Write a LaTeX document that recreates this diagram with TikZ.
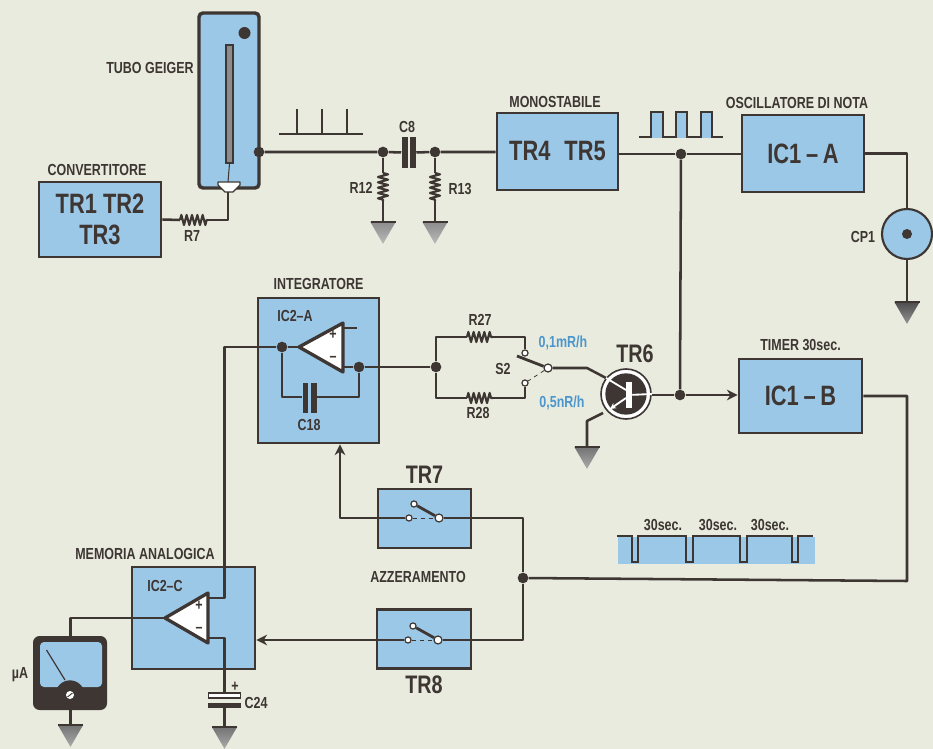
\documentclass[tikz,border=0pt]{standalone}
\usepackage{fontspec}
\setmainfont{Liberation Sans}[FakeStretch=0.78]
\usetikzlibrary{positioning,arrows.meta,shapes.geometric,calc,decorations.pathmorphing}
\definecolor{paper}{HTML}{E9EBDE}
\definecolor{ink}{HTML}{3D3633}
\definecolor{blk}{HTML}{9CC8E8}
\definecolor{note}{HTML}{4C96CC}
\begin{document}
\begin{tikzpicture}[x=0.75pt,y=-0.75pt,>={Stealth[length=8pt,width=8pt]},
  dims/.style 2 args={minimum width=#1*0.75pt,minimum height=#2*0.75pt},
  block/.style={draw=ink,fill=blk,line width=2.2pt,inner sep=0pt,text=ink,align=center,font=\fontsize{21}{25}\selectfont\bfseries},
  lbl/.style={inner sep=0pt,text=ink,font=\fontsize{12}{14}\selectfont\bfseries},
  biglbl/.style={lbl,font=\fontsize{19}{21}\selectfont\bfseries},
  rate/.style={lbl,text=note},
  wire/.style={draw=ink,line width=1.9pt,line join=round},
  res/.style={wire,line width=1.6pt,decoration={zigzag,segment length=4pt,amplitude=3.8pt},decorate},
  dot/.style={circle,fill=ink,inner sep=0pt,minimum size=8pt},
  plate/.style={fill=ink,inner sep=0pt},
  contact/.style={circle,draw=ink,fill=white,line width=0.9pt,inner sep=0pt,minimum size=4.6pt},
  wiper/.style={contact,minimum size=6pt},
  gnd/.style={regular polygon,regular polygon sides=3,shape border rotate=180,inner sep=0pt,minimum size=22pt},
  opamp/.style={draw=ink,fill=white,line width=2.5pt,line join=round},
  pulse/.style={draw=ink,line width=1.2pt}]
\fill[paper] (0,0) rectangle (933,749);
\useasboundingbox (0,0) rectangle (933,749);
% blocks
\node[block,dims={122}{75}] (conv) at (100,219.5) {TR1 TR2\\[-2pt]TR3};
\node[block,dims={121}{77}] (mono) at (557.5,151.5) {TR4\enspace TR5};
\node[block,dims={122}{77}] (osc) at (803,153.5) {IC1\,--\,A};
\node[block,dims={123}{74}] (timer) at (800.5,396) {IC1\,--\,B};
\node[block,dims={121}{145}] (inte) at (318.5,370.5) {};
\node[block,dims={123}{102}] (mem) at (193.5,618) {};
\node[block,dims={93}{59}] (tr7) at (424.5,518.5) {};
\node[block,dims={94}{59}] (tr8) at (424,639) {};
% labels
\node[lbl] (lConv) at (97,170) {CONVERTITORE};
\node[lbl] (lTube) at (150,68) {TUBO GEIGER};
\node[lbl] (lMono) at (555,102) {MONOSTABILE};
\node[lbl] (lOsc) at (797,103) {OSCILLATORE DI NOTA};
\node[lbl,above=5pt of timer] (lTimer) {TIMER 30sec.};
\node[lbl,above=5pt of inte] (lInte) {INTEGRATORE};
\node[lbl] (lMem) at (145,554) {MEMORIA ANALOGICA};
\node[lbl] (lAzz) at (418,577) {AZZERAMENTO};
\node[biglbl] (lTr6) at (635,354) {TR6};
\node[biglbl,above=3pt of tr7] (lTr7) {TR7};
\node[biglbl,below=4.5pt of tr8] (lTr8) {TR8};
\node[lbl] (lCp1) at (863,237) {CP1};
\node[lbl] (lR7) at (192,236) {R7};
\node[lbl] (lC8) at (407,127) {C8};
\node[lbl] (lR12) at (361,188) {R12};
\node[lbl] (lR13) at (460,189) {R13};
\node[lbl] (lIca) at (295,316) {IC2--A};
\node[lbl] (lIcc) at (165,586) {IC2--C};
\node[lbl] (lC18) at (309,425) {C18};
\node[lbl] (lR27) at (480,320) {R27};
\node[lbl] (lR28) at (478,413) {R28};
\node[lbl] (lS2) at (503,369) {S2};
\node[lbl] (lC24) at (256,703) {C24};
\node[lbl] (lUa) at (20,675) {µA};
\node[rate] (lLow) at (563,343) {0,1mR/h};
\node[rate] (lHigh) at (562,403) {0,5nR/h};
% geiger tube
\node[draw=ink,fill=blk,line width=2.6pt,rounded corners=3pt,dims={60}{175}] (geiger) at (229,100.5) {};
\node[circle,fill=ink,inner sep=0pt,minimum size=9pt] (gHole) at (244.5,33) {};
\node[draw=ink,fill=black!45,line width=0.8pt,inner sep=0pt,dims={7}{118}] (gTube) at (229.5,104) {};
\draw[wire,fill=white,line width=1pt] (218,182) -- (240,182) -- (240,185) -- (233,192) -- (225,192) -- (218,185) -- cycle;
\coordinate (gTop) at (228,182);
\coordinate (gPin) at (228,192);
\draw[wire,line width=0.8pt] (gTube.south) -- (gTop);
% pulses
\draw[pulse] (279,134) -- (363,134);
\foreach \x in {297,322,347}{
  \draw[pulse] (\x,134) -- (\x,109);
}
\foreach \a/\b in {651/663,676/687,701/712}{
  \fill[blk] (\a,112) rectangle (\b,138);
}
\draw[pulse] (639,137) foreach \a/\b in {651/663,676/687,701/712}{ -- (\a,137) -- (\a,112) -- (\b,112) -- (\b,137)} -- (723,137);
\fill[blk] (618,537) rectangle (815,564);
\draw[pulse] (617,536) foreach \a/\b in {632/638,686/693,740/747,792/798}{ -- (\a,536) -- (\a,562) -- (\b,562) -- (\b,536)} -- (813,536);
\node[lbl] (lSecA) at (663,525) {30sec.};
\node[lbl] (lSecB) at (718,525) {30sec.};
\node[lbl] (lSecC) at (770,525) {30sec.};
% grounds
\foreach \n/\x/\y/\c in {gR12/383/222/45,gR13/435/222/45,gCp/907/302/70,gTr/587/447/55,gMtr/70.5/725/55,gCap/224.5/727/55}{
  \node[gnd,top color=black!\c,bottom color=black!\c!white!60!white] (\n) at (\x,\y+7.2) {};
  \draw[wire] ($(\n.center)+(-12.5,-7.2)$) -- ++(25,0);
}
% input side
\coordinate (r7a) at (180,220);
\coordinate (r7b) at (207,220);
\coordinate (r7c) at (228,220);
\draw[wire] (conv.east) -- (r7a);
\draw[res] (r7a) -- (r7b);
\draw[wire] (r7b) -- (r7c) -- (gPin);
\node[dot] (jGei) at (259,152) {};
\node[dot] (jCa) at (383,152) {};
\node[dot] (jCb) at (435,152) {};
\node[plate,dims={6}{31}] (c8a) at (404.5,152.5) {};
\node[plate,dims={6}{31}] (c8b) at (413,152.5) {};
\draw[wire] (jGei) -- (jCa) -- (c8a);
\draw[wire] (c8b) -- (jCb) -- (jCb-|mono.west);
\coordinate (r12a) at (383,173);
\coordinate (r12b) at (383,201);
\coordinate (r13a) at (435,173);
\coordinate (r13b) at (435,201);
\draw[wire] (jCa) -- (r12a);
\draw[res] (r12a) -- (r12b);
\draw[wire] (r12b) -- (gR12.north);
\draw[wire] (jCb) -- (r13a);
\draw[res] (r13a) -- (r13b);
\draw[wire] (r13b) -- (gR13.north);
% output side
\node[dot] (jMono) at (681,154) {};
\node[circle,draw=ink,fill=blk,line width=1.6pt,minimum size=37.5pt,inner sep=0pt] (cp1) at (907,234) {};
\node[circle,fill=ink,inner sep=0pt,minimum size=7.5pt] (cp1c) at (cp1) {};
\draw[wire] (jMono-|mono.east) -- (jMono) -- (jMono-|osc.west);
\draw[wire] (osc.east) -| (cp1.north);
\draw[wire] (cp1.south) -- (gCp.north);
% integrator
\coordinate (opIn) at (299,347);
\coordinate (opOut) at (343,367);
\coordinate (opVcc) at (343,328);
\coordinate (opStub) at (357,328);
\node[dot] (jIn) at (282,347) {};
\node[dot] (jOut) at (359,367) {};
\node[dot] (jRes) at (436,367) {};
\coordinate (ca) at (282,397);
\coordinate (cb) at (359,397);
\node[plate,dims={5}{30}] (c18a) at (305,398) {};
\node[plate,dims={6}{30}] (c18b) at (314,398) {};
\draw[wire] (jIn) -- (ca) -- (ca-|c18a.west);
\draw[wire] (cb-|c18b.east) -- (cb) -- (jOut);
\draw[wire] (opOut) -- (jOut) -- (jRes);
\draw[wire] (opVcc) -- (opStub);
\draw[opamp] (299,347) -- (343,323) -- (343,372) -- cycle;
\node[lbl] (ipA) at (333,335) {+};
\node[lbl] (imA) at (333,359) {--};
% range switch
\coordinate (r27a) at (436,337);
\coordinate (r27b) at (467,337);
\coordinate (r27c) at (493,337);
\coordinate (r27d) at (525,337);
\coordinate (r28a) at (436,398);
\coordinate (r28b) at (467,398);
\coordinate (r28c) at (493,398);
\coordinate (r28d) at (525,398);
\node[contact] (s2a) at (525,353) {};
\node[contact] (s2b) at (525,383) {};
\node[wiper] (s2w) at (548,368) {};
\coordinate (s2l) at (517,356);
\draw[wire] (jRes) -- (r27a) -- (r27b);
\draw[res] (r27b) -- (r27c);
\draw[wire] (r27c) -- (r27d) -- (s2a);
\draw[wire] (jRes) -- (r28a) -- (r28b);
\draw[res] (r28b) -- (r28c);
\draw[wire] (r28c) -- (r28d) -- (s2b);
\draw[wire,line width=2.1pt] (s2l) -- (s2w);
\draw[draw=ink,dashed,line width=0.6pt] (s2w) -- (s2b);
% TR6
\node[circle,draw=ink,fill=white,line width=1.2pt,minimum size=37.5pt,inner sep=0pt] (tr6) at (626,394) {};
\node[circle,fill=ink,inner sep=0pt,minimum size=31pt] (tr6in) at (tr6) {};
\node[fill=white,inner sep=0pt,dims={6}{26}] (tr6bar) at (629,395) {};
\coordinate (tr6c) at (587,368);
\coordinate (tr6ce) at (606,378);
\coordinate (tr6e) at (603,413);
\coordinate (tr6g) at (587,421);
\draw[wire] (s2w) -- (tr6c) -- (tr6ce);
\draw[white,line width=1.4pt] (tr6ce) -- (626,390);
\draw[white,line width=1.4pt,-{Stealth[length=4.5pt,width=4.5pt]}] (626,398) -- (610,409);
\draw[white,line width=1.4pt] (tr6bar) -- (tr6.east);
\draw[wire] (tr6e) -- (tr6g) -- (gTr.north);
\node[dot] (jTim) at (680,395) {};
\draw[wire] (jTim-|tr6.east) -- (jTim);
\draw[wire,->] (jTim) -- (jTim-|timer.west);
\draw[wire] (jMono) -- (jTim);
% TR7 and TR8 switches
\node[contact] (k7a) at (409,518) {};
\node[contact] (k7b) at (414,504) {};
\node[wiper] (k7w) at (439,518) {};
\node[contact] (k8a) at (408,640) {};
\node[contact] (k8b) at (413,626) {};
\node[wiper] (k8w) at (438,640) {};
\foreach \k in {k7,k8}{
  \draw[wire,line width=2.1pt] (\k b) -- (\k w);
  \draw[draw=ink,dashed,line width=0.6pt] (\k a) -- (\k w);
}
\coordinate (tr7l) at (340,518);
\coordinate (tr7r) at (523,518);
\coordinate (tr8r) at (523,640);
\coordinate (timOut) at (907,581);
\node[dot] (jRst) at (523,578) {};
\draw[wire,<-] (tr7l|-inte.south) -- (tr7l) -- (k7a);
\draw[wire] (k7w) -- (tr7r) -- (jRst) -- (tr8r) -- (k8w);
\draw[wire,->] (k8a) -- (mem.east|-k8a);
\draw[wire] (timer.east) -| (timOut) -- (jRst);
% memory
\coordinate (mcIn) at (165,618);
\coordinate (mcP) at (208,598);
\coordinate (mcM) at (208,638);
\coordinate (mcPb) at (224.5,598);
\coordinate (mcMb) at (224.5,638);
\coordinate (mInt) at (224.5,347);
\node[draw=ink,fill=white,line width=1pt,inner sep=0pt,dims={32}{5}] (c24a) at (224.5,695.5) {};
\node[plate,dims={33}{5}] (c24b) at (224.5,705.5) {};
\node[lbl] (lPlus) at (235,687) {+};
\draw[wire] (mcP) -- (mcPb) -- (mInt) -- (jIn) -- (opIn);
\draw[wire] (mcM) -- (mcMb) -- (c24a.north);
\draw[wire] (c24b.south) -- (gCap.north);
\draw[opamp] (165,618) -- (208,593) -- (208,643) -- cycle;
\node[lbl] (ipC) at (199,606) {+};
\node[lbl] (imC) at (199,630) {--};
% meter
\node[fill=ink,rounded corners=5pt,dims={74}{74}] (meter) at (70,673) {};
\node[fill=blk,rounded corners=3pt,dims={62}{45}] (mFace) at (71,664.5) {};
\node[circle,fill=ink,inner sep=0pt,minimum size=22pt] (mHub) at (70,695) {};
\node[circle,fill=white,inner sep=0pt,minimum size=6pt] (mScrew) at (70,695) {};
\draw[ink,line width=0.7pt] (67.5,697) -- (72.5,693);
\coordinate (mNeedle) at (46.5,650);
\coordinate (mNeedleB) at (65,680);
\draw[ink,line width=0.9pt] (mNeedle) -- (mNeedleB);
\coordinate (mWire) at (70.5,618);
\draw[wire] (mcIn) -- (mWire) -- (meter.north-|mWire);
\draw[wire] (meter.south-|gMtr) -- (gMtr.north);
\end{tikzpicture}
\end{document}
